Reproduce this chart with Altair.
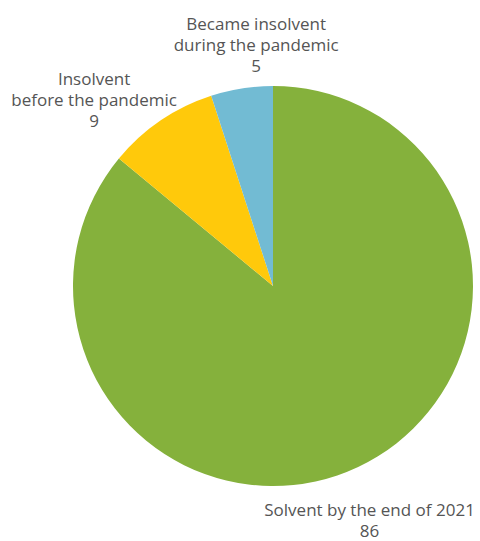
import altair as alt
import pandas as pd

categories = ["Solvent by the end of 2021", "Insolvent before the pandemic", "Became insolvent during the pandemic"]
labels = ["Solvent by the end of 2021", "Insolvent\nbefore the pandemic", "Became insolvent\nduring the pandemic"]
values = [86, 9, 5]
colors = ["#85B13C", "#FFC90B", "#72BBD3"]

df = pd.DataFrame({
    "category": categories,
    "label": labels,
    "value": values,
    "order": list(range(len(categories))),
})

CX, CY = 273, 286

base = alt.Chart(df)

pie = base.mark_arc(radius=200, stroke=None).encode(
    theta=alt.Theta("value:Q", stack=True),
    color=alt.Color("category:N", scale=alt.Scale(domain=categories, range=colors), legend=None),
    order=alt.Order("order:Q"),
    x=alt.value(CX),
    y=alt.value(CY),
)

def label_layer(cat, radius, dx, dy):
    return base.transform_joinaggregate(
        total="sum(value)"
    ).transform_window(
        cum="sum(value)", sort=[alt.SortField("order")], frame=[None, 0]
    ).transform_calculate(
        mid="(datum.cum - datum.value / 2) / datum.total * 2 * PI",
        txt="datum.label + '\\n' + datum.value",
    ).transform_filter(
        alt.datum.category == cat
    ).mark_text(
        radius=radius, dx=dx, dy=dy, align="center", baseline="middle",
        lineBreak="\n", lineHeight=21, font="Open Sans", fontSize=17, color="#555555",
    ).encode(
        theta=alt.Theta("mid:Q", scale=None),
        text="txt:N",
        x=alt.value(CX),
        y=alt.value(CY),
    )

chart = alt.layer(
    pie,
    label_layer(categories[0], 262, -15, -12),
    label_layer(categories[1], 224, -53, -21),
    label_layer(categories[2], 242, 21, -22),
).properties(
    width=480, height=541,
    autosize=alt.AutoSizeParams(type="none"),
    padding=0,
).configure_view(stroke=None)

chart.save("out.html", embed_options={"renderer": "svg", "actions": False})
